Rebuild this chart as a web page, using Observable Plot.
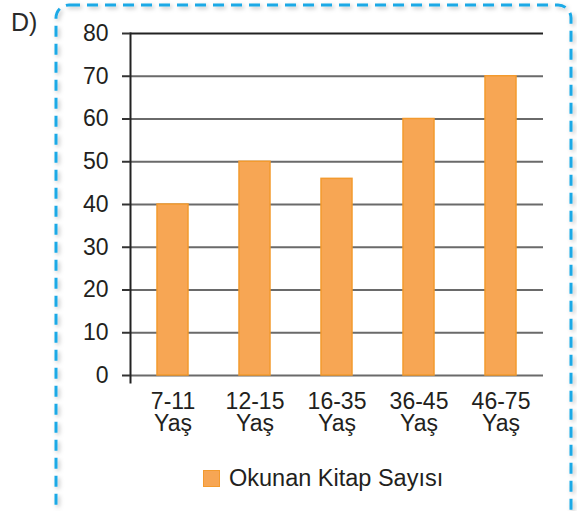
<!DOCTYPE html>
<html>
<head>
<meta charset="utf-8">
<script src="https://cdn.jsdelivr.net/npm/d3@7"></script>
<script src="https://cdn.jsdelivr.net/npm/@observablehq/plot@0.6"></script>
<style>
  html, body { margin: 0; padding: 0; background: #fff; }
  body { width: 577px; height: 511px; position: relative; overflow: hidden;
         font-family: "Liberation Sans", Arial, Helvetica, sans-serif; color: #231f20; }
  #border { position: absolute; left: 0; top: 0; }
  #tag { position: absolute; left: 11px; top: 8px; font-size: 25px; color: #2a2a2a; }
  #chart { position: absolute; left: 0; top: 0; }
  #legend { position: absolute; left: 203px; top: 465px; display: flex; align-items: center;
            font-size: 23.5px; color: #231f20; }
  #legend .sw { width: 15px; height: 15px; background: #F7A654; border: 1px solid #F39A2E; margin-right: 9px; }
</style>
</head>
<body>
<svg id="border" width="577" height="511">
  <defs>
    <filter id="sh" x="-5%" y="-5%" width="110%" height="110%">
      <feDropShadow dx="2" dy="2" stdDeviation="2" flood-color="#000" flood-opacity="0.25"/>
    </filter>
  </defs>
  <rect x="56" y="5" width="515" height="560" rx="13" ry="13" fill="none"
        stroke="#1BA9E6" stroke-width="3" stroke-dasharray="11 7" filter="url(#sh)"/>
</svg>
<div id="tag">D)</div>
<div id="chart"></div>
<div id="legend"><div class="sw"></div><span id="legendText"></span></div>
<script>
const ageGroups = ["7-11", "12-15", "16-35", "36-45", "46-75"];
const unitLabel = "Yaş";
const booksRead = [40, 50, 46, 60, 70];
const yTicks = [0, 10, 20, 30, 40, 50, 60, 70, 80];
const seriesName = "Okunan Kitap Sayısı";

const data = ageGroups.map((g, i) => ({group: g, value: booksRead[i]}));

document.getElementById("legendText").textContent = seriesName;

const chart = Plot.plot({
  width: 577,
  height: 440,
  marginLeft: 130,
  marginRight: 34,
  marginTop: 33,
  marginBottom: 65,
  style: {fontFamily: "Liberation Sans, Arial, Helvetica, sans-serif", fontSize: "23px", background: "transparent", color: "#231f20"},
  x: {domain: ageGroups, paddingInner: 0.625, paddingOuter: 0.3125},
  y: {domain: [0, 80]},
  marks: [
    Plot.ruleY(yTicks, {y: d => d, stroke: d => d === 80 ? "#222" : "#6a6a6a", strokeWidth: 2}),
    Plot.barY(data, {x: "group", y: "value", fill: "#F7A654", stroke: "#F39A2E", strokeWidth: 1.5}),
    Plot.frame({anchor: "left", stroke: "#222", strokeWidth: 2, insetBottom: -7}),
    Plot.axisY({ticks: yTicks, tickSize: 8, tickPadding: 14, stroke: "#333", strokeWidth: 2, label: null, tickFormat: d => String(d)}),
    Plot.axisX({tickSize: 0, tickPadding: 18, lineHeight: 0.95, label: null, tickFormat: d => `${d}\n${unitLabel}`})
  ]
});
document.getElementById("chart").appendChild(chart);
</script>
</body>
</html>
